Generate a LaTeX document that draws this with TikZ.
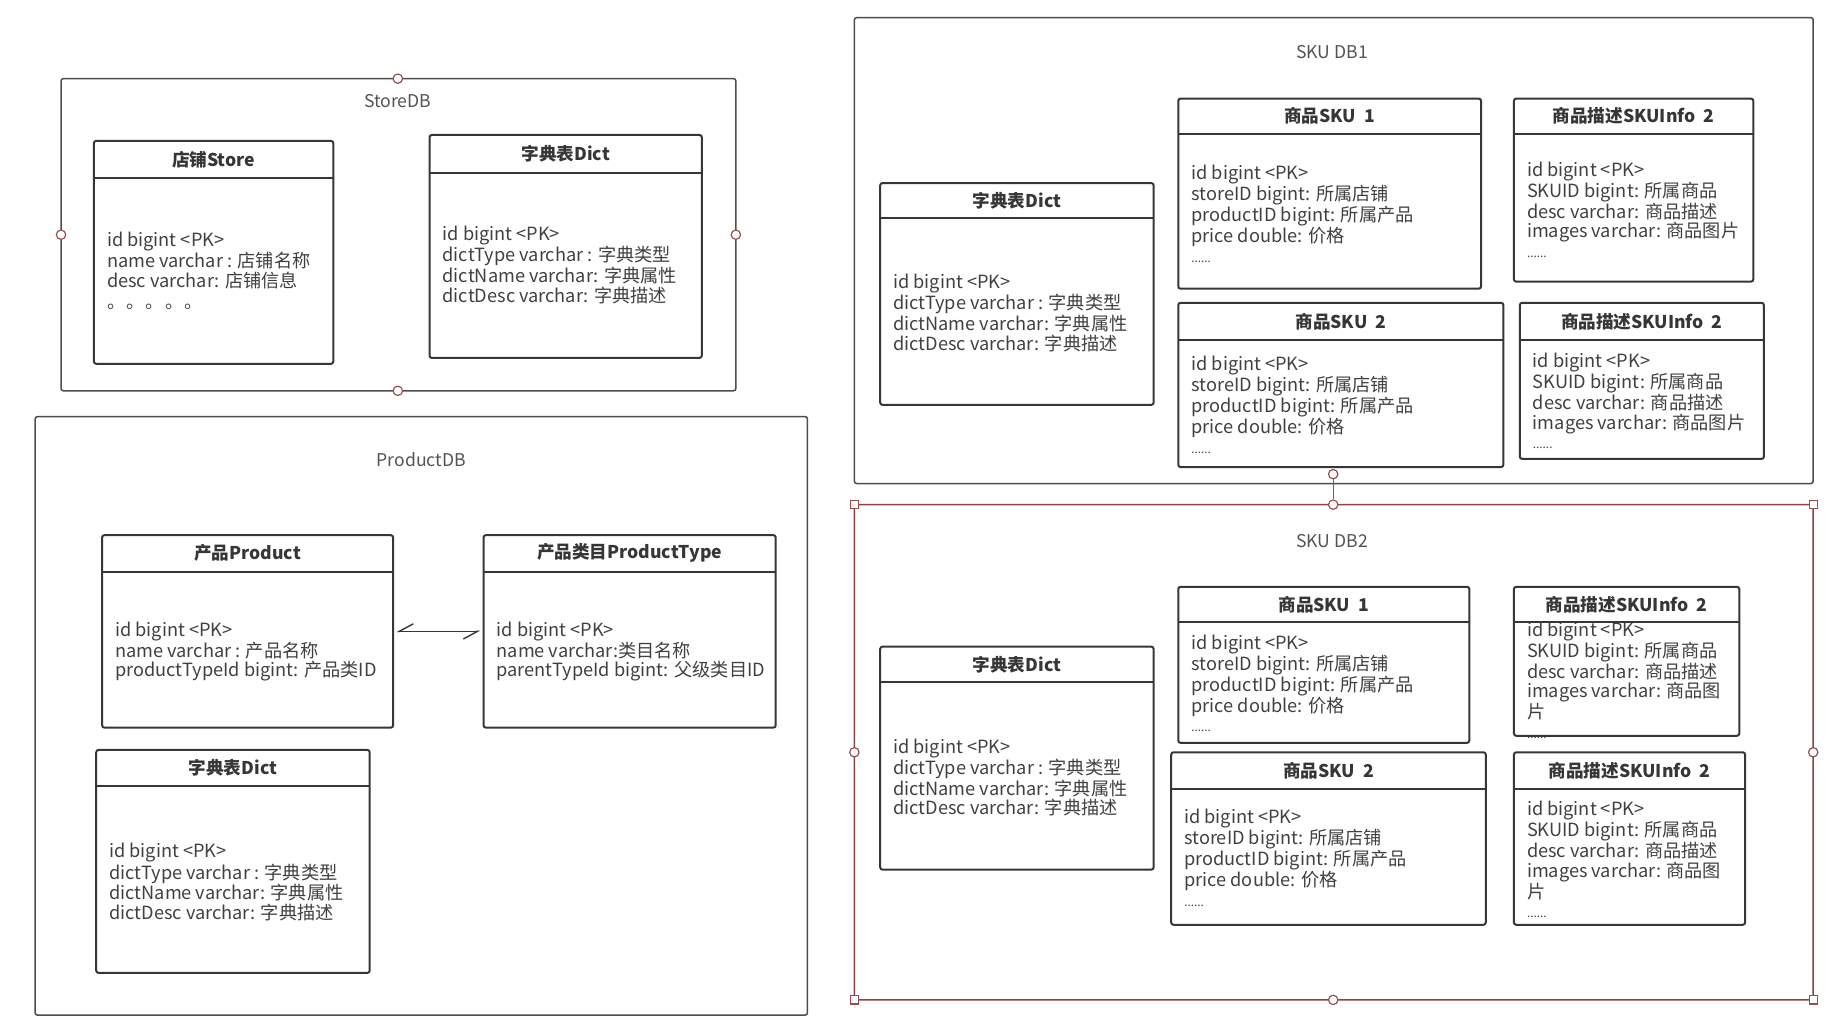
\documentclass[tikz,border=0pt]{standalone}
\usepackage{fontspec}
\setmainfont{Noto Sans CJK SC}
\usetikzlibrary{fit,arrows.meta}
\definecolor{frameC}{HTML}{4D4D4D}
\definecolor{boxC}{HTML}{363636}
\definecolor{txtC}{HTML}{404040}
\definecolor{handC}{HTML}{9C4A4A}
\definecolor{selC}{HTML}{8B4545}
\tikzset{
  entbox/.style={draw=boxC,line width=1.7pt,rounded corners=2pt,inner sep=0pt},
  entline/.style={draw=boxC,line width=1.7pt},
  enttitle/.style={font=\fontsize{15}{16}\selectfont\bfseries,text=boxC,inner sep=0pt},
  entattr/.style={font=\fontsize{15.5}{16.6}\selectfont,text=txtC,align=left,anchor=north west,inner sep=0pt},
  framebox/.style={draw=frameC,line width=1.3pt,rounded corners=2pt,inner sep=0pt},
  frametitle/.style={font=\fontsize{15}{16}\selectfont,text=txtC!90!white,inner sep=0pt},
  hcirc/.style={circle,draw=handC,fill=white,line width=1pt,minimum size=8pt,inner sep=0pt},
  hsq/.style={rectangle,draw=handC,fill=white,line width=1pt,minimum size=7pt,inner sep=0pt},
  harp/.style={draw=boxC,line width=1.2pt,{Straight Barb[right,length=12pt,width=13pt]}-{Straight Barb[right,length=12pt,width=13pt]},shorten <=2pt,shorten >=2pt}
}
\newcommand{\dotsline}{{\fontsize{10}{16.6}\selectfont ......}}
\newcommand{\ent}[9]{%
  \node[entbox, fit={(#2,#3) (#4,#5)}] (#1) {};
  \draw[entline] (#2,#6) -- (#4,#6);
  \node[enttitle] (#1-t) at ({(#2+#4)/2},{(#3+#6)/2}) {#7};
  \node[entattr] (#1-a) at ({#2+11},{#8-1.5}) {#9};
}
\begin{document}
\begin{tikzpicture}[x=1pt,y=-1pt]
\useasboundingbox (0,0) rectangle (1567,880);
% ---------- StoreDB
\node[framebox, fit={(52,67) (627,333)}] (storedb) {};
\node[frametitle] (storedb-t) at (339,86) {StoreDB};
\ent{store}{80}{120}{284}{310}{152}{店铺Store}{199}{id bigint <PK>\\name varchar : 店铺名称\\desc varchar: 店铺信息\\[2pt]。\kern1pt。\kern1pt。\kern1pt。\kern1pt。}
\ent{sdict}{366}{115}{598}{305}{147}{字典表Dict}{194}{id bigint <PK>\\dictType varchar : 字典类型\\dictName varchar: 字典属性\\dictDesc varchar: 字典描述}
\node[hcirc] (sh1) at (339,67) {};
\node[hcirc] (sh2) at (339,333) {};
\node[hcirc] (sh3) at (52,200) {};
\node[hcirc] (sh4) at (627,200) {};
% ---------- ProductDB
\node[framebox, fit={(30,355) (688,865)}] (productdb) {};
\node[frametitle] (productdb-t) at (359,392) {ProductDB};
\ent{prod}{87}{456}{335}{620}{487}{产品Product}{531}{id bigint <PK>\\name varchar : 产品名称\\productTypeId bigint: 产品类ID}
\ent{ptype}{412}{456}{661}{620}{487}{产品类目ProductType}{531}{id bigint <PK>\\name varchar:类目名称\\parentTypeId bigint: 父级类目ID}
\ent{pdict}{82}{639}{315}{829}{670}{字典表Dict}{720}{id bigint <PK>\\dictType varchar : 字典类型\\dictName varchar: 字典属性\\dictDesc varchar: 字典描述}
\draw[harp] (prod) -- (ptype);
% ---------- SKU DB1
\node[framebox, fit={(728,15) (1545,412)}] (skudb1) {};
\node[frametitle] (skudb1-t) at (1135,44) {SKU DB1};
\ent{aDict}{750}{156}{983}{345}{186}{字典表Dict}{235}{id bigint <PK>\\dictType varchar : 字典类型\\dictName varchar: 字典属性\\dictDesc varchar: 字典描述}
\ent{aSkuA}{1004}{84}{1262}{246}{114}{商品SKU\ \ 1}{142}{id bigint <PK>\\storeID bigint: 所属店铺\\productID bigint: 所属产品\\price double: 价格\\\dotsline}
\ent{aInfoA}{1290}{84}{1494}{240}{114}{商品描述SKUInfo\ \ 2}{139}{id bigint <PK>\\SKUID bigint: 所属商品\\desc varchar: 商品描述\\images varchar: 商品图片\\\dotsline}
\ent{aSkuB}{1004}{258}{1281}{398}{290}{商品SKU\ \ 2}{305}{id bigint <PK>\\storeID bigint: 所属店铺\\productID bigint: 所属产品\\price double: 价格\\\dotsline}
\ent{aInfoB}{1295}{258}{1503}{391}{290}{商品描述SKUInfo\ \ 2}{302}{id bigint <PK>\\SKUID bigint: 所属商品\\desc varchar: 商品描述\\images varchar: 商品图片\\\dotsline}
% ---------- SKU DB2
\node[framebox, draw=selC, fit={(728,430) (1545,852)}] (skudb2) {};
\node[frametitle] (skudb2-t) at (1135,461) {SKU DB2};
\ent{bDict}{750}{551}{983}{741}{581}{字典表Dict}{631}{id bigint <PK>\\dictType varchar : 字典类型\\dictName varchar: 字典属性\\dictDesc varchar: 字典描述}
\ent{bSkuA}{1004}{500}{1252}{633}{530}{商品SKU\ \ 1}{542}{id bigint <PK>\\storeID bigint: 所属店铺\\productID bigint: 所属产品\\price double: 价格\\\dotsline}
\ent{bInfoA}{1290}{500}{1482}{627}{530}{商品描述SKUInfo\ \ 2}{531}{id bigint <PK>\\SKUID bigint: 所属商品\\desc varchar: 商品描述\\images varchar: 商品图\\片\\\dotsline}
\ent{bSkuB}{998}{641}{1266}{788}{672}{商品SKU\ \ 2}{691}{id bigint <PK>\\storeID bigint: 所属店铺\\productID bigint: 所属产品\\price double: 价格\\\dotsline}
\ent{bInfoB}{1290}{641}{1487}{788}{672}{商品描述SKUInfo\ \ 2}{684}{id bigint <PK>\\SKUID bigint: 所属商品\\desc varchar: 商品描述\\images varchar: 商品图\\片\\\dotsline}
% handles of SKU DB2
\node[hcirc] (rot) at (1136,404) {};
\node[hcirc] (dh1) at (1136,430) {};
\draw[draw=handC,line width=1pt] (rot) -- (dh1);
\node[hcirc] (dh2) at (1136,852) {};
\node[hcirc] (dh3) at (728,641) {};
\node[hcirc] (dh4) at (1545,641) {};
\node[hsq] (dc1) at (728,430) {};
\node[hsq] (dc2) at (1545,430) {};
\node[hsq] (dc3) at (728,852) {};
\node[hsq] (dc4) at (1545,852) {};
\end{tikzpicture}
\end{document}
